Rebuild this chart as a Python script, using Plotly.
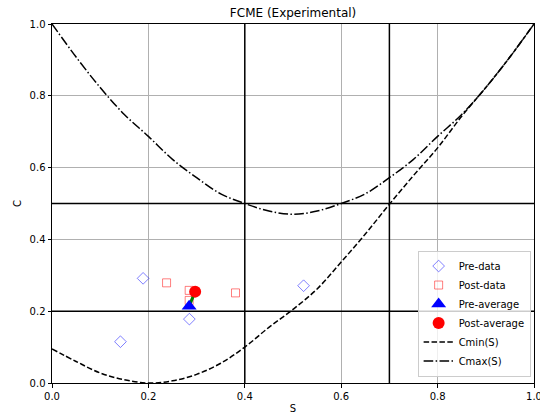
import plotly.graph_objects as go

# --- data ---
pre_S = [0.142, 0.189, 0.285, 0.522]
pre_C = [0.115, 0.2915, 0.178, 0.271]
post_S = [0.2377, 0.2846, 0.2846, 0.3807]
post_C = [0.279, 0.258, 0.230, 0.251]
pre_avg = (0.2845, 0.214)
post_avg = (0.297, 0.2545)

curve_S = [0.0, 0.05, 0.1, 0.15, 0.2, 0.25, 0.3, 0.35, 0.4, 0.45, 0.5,
           0.55, 0.6, 0.65, 0.7, 0.75, 0.8, 0.85, 0.9, 0.95, 1.0]
cmin_C = [0.095, 0.06, 0.028, 0.009, 0.0, 0.006, 0.024, 0.055, 0.1, 0.155, 0.205,
          0.262, 0.337, 0.415, 0.498, 0.578, 0.655, 0.743, 0.823, 0.908, 1.0]
cmax_C = [1.0, 0.908, 0.823, 0.748, 0.687, 0.623, 0.572, 0.527, 0.500, 0.479, 0.470,
          0.479, 0.500, 0.527, 0.572, 0.623, 0.687, 0.748, 0.823, 0.908, 1.0]

h_lines = [0.2, 0.5]
v_lines = [0.4, 0.7]
ticks = [0.0, 0.2, 0.4, 0.6, 0.8, 1.0]

FONT = "DejaVu Sans"

fig = go.Figure()

fig.add_trace(go.Scatter(x=pre_S, y=pre_C, mode="markers", name="Pre-data",
                         marker=dict(symbol="diamond-open", size=9, color="rgba(0,0,255,0.5)",
                                     line=dict(width=1))))
fig.add_trace(go.Scatter(x=post_S, y=post_C, mode="markers", name="Post-data",
                         marker=dict(symbol="square-open", size=8, color="rgba(255,0,0,0.5)",
                                     line=dict(width=1))))
fig.add_trace(go.Scatter(x=[pre_avg[0], post_avg[0]], y=[pre_avg[1], post_avg[1]],
                         mode="lines", showlegend=False, hoverinfo="skip",
                         line=dict(color="green", width=3)))
fig.add_trace(go.Scatter(x=[pre_avg[0]], y=[pre_avg[1]], mode="markers", name="Pre-average",
                         marker=dict(symbol="triangle-up", size=13, color="blue")))
fig.add_trace(go.Scatter(x=[post_avg[0]], y=[post_avg[1]], mode="markers", name="Post-average",
                         marker=dict(symbol="circle", size=12, color="red")))
fig.add_trace(go.Scatter(x=curve_S, y=cmin_C, mode="lines", name="Cmin(S)",
                         line=dict(color="black", width=1.5, dash="5.5px,2.4px", shape="spline")))
fig.add_trace(go.Scatter(x=curve_S, y=cmax_C, mode="lines", name="Cmax(S)",
                         line=dict(color="black", width=1.5, dash="9.6px,2.4px,1.5px,2.4px",
                                   shape="spline")))

shapes = []
for h in h_lines:
    shapes.append(dict(type="line", xref="paper", yref="y", x0=0, x1=1, y0=h, y1=h,
                       line=dict(color="black", width=1.5), layer="above"))
for v in v_lines:
    shapes.append(dict(type="line", xref="x", yref="paper", x0=v, x1=v, y0=0, y1=1,
                       line=dict(color="black", width=1.5), layer="above"))

axis_common = dict(range=[0, 1], tickvals=ticks, tickformat=".1f", showgrid=True,
                   gridcolor="#b0b0b0", gridwidth=0.8, zeroline=False, showline=True,
                   linecolor="black", linewidth=1, mirror=True, ticks="outside",
                   ticklen=3.5, tickcolor="black", tickwidth=0.8,
                   ticklabeloverflow="allow", automargin=False,
                   tickfont=dict(family=FONT, size=10, color="black"))

fig.update_layout(
    width=540, height=417,
    margin=dict(l=52, r=5.5, t=24, b=33.5, autoexpand=False),
    paper_bgcolor="white", plot_bgcolor="white",
    title=dict(text="FCME (Experimental)", x=0.5427, xanchor="center", y=0.97,
               yanchor="middle", font=dict(family=FONT, size=12, color="black")),
    xaxis=dict(title=dict(text="S", font=dict(family=FONT, size=10, color="black"), standoff=4),
               **axis_common),
    yaxis=dict(title=dict(text="C", font=dict(family=FONT, size=10, color="black"), standoff=6),
               **axis_common),
    legend=dict(x=0.993, xanchor="right", y=0.018, yanchor="bottom",
                bgcolor="rgba(255,255,255,0.8)", bordercolor="#cccccc", borderwidth=1,
                font=dict(family=FONT, size=10, color="black"), tracegroupgap=0),
    shapes=shapes,
    showlegend=True,
)

fig.write_html("out.html", config={"displayModeBar": False},
               post_script="document.body.style.margin='0';document.body.style.overflow='hidden';")
